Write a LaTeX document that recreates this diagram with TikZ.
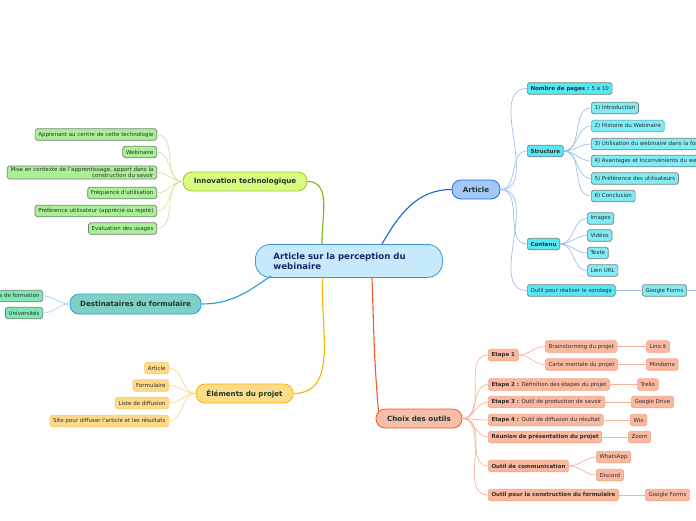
\documentclass[tikz,border=0pt]{standalone}
\usepackage{fontspec}
\setmainfont{DejaVu Sans}
\usetikzlibrary{calc}
\usetikzlibrary{positioning}
\definecolor{custom-text}{RGB}{45, 45, 45}
\definecolor{custom-dark}{RGB}{24, 58, 44}
\definecolor{custom-navy}{RGB}{27, 38, 100}
\definecolor{custom-gray}{RGB}{118, 130, 118}
\definecolor{central-fill}{RGB}{198, 234, 252}
\definecolor{central-draw}{RGB}{61, 147, 214}
\definecolor{lime-fill}{RGB}{220, 250, 130}
\definecolor{lime-draw}{RGB}{150, 205, 40}
\definecolor{lime-line}{RGB}{124, 181, 24}
\definecolor{lime-tie}{RGB}{205, 232, 160}
\definecolor{green-leaf}{RGB}{170, 240, 150}
\definecolor{teal-fill}{RGB}{128, 207, 196}
\definecolor{teal-draw}{RGB}{39, 163, 224}
\definecolor{teal-line}{RGB}{27, 161, 226}
\definecolor{teal-tie}{RGB}{160, 214, 245}
\definecolor{mint-leaf}{RGB}{126, 232, 180}
\definecolor{gold-fill}{RGB}{254, 220, 138}
\definecolor{gold-draw}{RGB}{247, 181, 0}
\definecolor{gold-line}{RGB}{246, 180, 0}
\definecolor{gold-tie}{RGB}{252, 217, 138}
\definecolor{gold-leaf}{RGB}{253, 217, 139}
\definecolor{gold-edge}{RGB}{250, 205, 110}
\definecolor{sky-fill}{RGB}{164, 199, 247}
\definecolor{sky-draw}{RGB}{31, 111, 216}
\definecolor{sky-line}{RGB}{21, 101, 216}
\definecolor{sky-tie}{RGB}{158, 191, 240}
\definecolor{cyan-one}{RGB}{85, 232, 245}
\definecolor{cyan-two}{RGB}{128, 236, 245}
\definecolor{salmon-fill}{RGB}{248, 189, 168}
\definecolor{salmon-draw}{RGB}{238, 95, 42}
\definecolor{salmon-line}{RGB}{240, 90, 40}
\definecolor{salmon-tie}{RGB}{248, 180, 154}
\definecolor{salmon-leaf}{RGB}{249, 185, 160}
\definecolor{salmon-edge}{RGB}{247, 165, 133}
\tikzset{
  leaf/.style={draw=custom-gray, rounded corners=1.8pt, line width=0.7pt, inner xsep=3.2pt, inner ysep=0pt,
    minimum height=11.5pt, font=\fontsize{5.5}{6.6}\selectfont, text=custom-text},
  branch/.style={draw, rounded corners=9pt, line width=0.8pt, minimum height=19pt,
    font=\fontsize{7.1}{8}\selectfont\bfseries, text=custom-dark},
  trunk/.style={line width=1.1pt},
  tie/.style={line width=0.7pt}
}
\begin{document}
\begin{tikzpicture}[x=1pt, y=-1pt]
\clip (0,0) rectangle (696,520);
\fill[white] (0,0) rectangle (696,520);

\node[draw=central-draw, fill=central-fill, rounded corners=15pt, line width=0.8pt, anchor=north west,
  minimum height=33pt, text width=151pt, inner xsep=18pt, align=left, text=custom-navy,
  font=\fontsize{8.6}{10}\selectfont\bfseries] (central) at (255,244) {Article sur la perception du\\webinaire};

% gauche
\node[branch, fill=lime-fill, draw=lime-draw, minimum width=124pt] (innov) at (245,181.5) {Innovation technologique};
\node[leaf, fill=green-leaf, anchor=east] (apprenant) at (157,134.5) {Apprenant au centre de cette technologie};
\node[leaf, fill=green-leaf, anchor=east] (webinaire) at (157,152) {Webinaire};
\node[leaf, fill=green-leaf, anchor=east, align=right, inner ysep=1pt] (contexte) at (157,172.5) {Mise en contexte de l'apprentissage, apport dans la\\construction du savoir};
\node[leaf, fill=green-leaf, anchor=east] (frequence) at (157,193) {Fréquence d'utilisation};
\node[leaf, fill=green-leaf, anchor=east] (preference) at (157,211) {Préférence utilisateur (apprécié ou rejeté)};
\node[leaf, fill=green-leaf, anchor=east] (evaluation) at (157,228.5) {Evaluation des usages};
\foreach \leafname in {apprenant,webinaire,contexte,frequence,preference,evaluation}
  \draw[tie, lime-tie] (innov.west) to[out=180, in=0] (\leafname.east);
\draw[trunk, lime-line] ($(central.north west)+(67,0)$) to[out=92, in=0] (innov.east);

\node[branch, fill=teal-fill, draw=teal-draw, minimum width=131pt, minimum height=20pt] (dest) at (135.5,304) {Destinataires du formulaire};
\node[leaf, fill=mint-leaf, anchor=east] (formation) at (43,296) {Organismes de formation};
\node[leaf, fill=mint-leaf, anchor=east] (univ) at (43,313) {Universités};
\foreach \leafname in {formation,univ}
  \draw[tie, teal-tie] (dest.west) to[out=180, in=0] (\leafname.east);
\draw[trunk, teal-line] ($(central.south west)+(16,-2)$) to[out=215, in=0] (dest.east);

\node[branch, fill=gold-fill, draw=gold-draw, minimum width=97pt] (elements) at (244.5,393.5) {Éléments du projet};
\node[leaf, fill=gold-leaf, draw=gold-edge, anchor=east] (elarticle) at (169,368) {Article};
\node[leaf, fill=gold-leaf, draw=gold-edge, anchor=east] (formulaire) at (169,385.5) {Formulaire};
\node[leaf, fill=gold-leaf, draw=gold-edge, anchor=east] (liste) at (169,403) {Liste de diffusion};
\node[leaf, fill=gold-leaf, draw=gold-edge, anchor=east] (site) at (169,421) {Site pour diffuser l'article et les résultats};
\foreach \leafname in {elarticle,formulaire,liste,site}
  \draw[tie, gold-tie] (elements.west) to[out=180, in=0] (\leafname.east);
\draw[trunk, gold-line] ($(central.south west)+(68,0)$) to[out=-95, in=0] (elements.east);

% droite
\node[branch, fill=sky-fill, draw=sky-draw, minimum width=48pt] (article) at (476,189.5) {Article};
\node[leaf, fill=cyan-one, anchor=west] (nbpages) at (527,88.5) {\textbf{Nombre de pages :} 5 à 10};
\node[leaf, fill=cyan-one, anchor=west] (structure) at (527,151) {\textbf{Structure}};
\node[leaf, fill=cyan-one, anchor=west] (contenu) at (527,244) {\textbf{Contenu}};
\node[leaf, fill=cyan-one, anchor=west] (sondage) at (527,290.5) {Outil pour réaliser le sondage};
\foreach \leafname in {nbpages,structure,contenu,sondage}
  \draw[tie, sky-tie] (article.east) to[out=0, in=180] (\leafname.west);
\node[leaf, fill=cyan-two, anchor=west] (intro) at (591,108) {1) Introduction};
\node[leaf, fill=cyan-two, draw=cyan-one!80!black, anchor=west] (histoire) at (591,126) {2) Histoire du Webinaire};
\node[leaf, fill=cyan-two, anchor=west] (utilisation) at (591,144) {3) Utilisation du webinaire dans la formation};
\node[leaf, fill=cyan-two, anchor=west] (avantages) at (591,161) {4) Avantages et Inconvénients du webinaire};
\node[leaf, fill=cyan-two, anchor=west] (prefs) at (591,178.5) {5) Préférence des utilisateurs};
\node[leaf, fill=cyan-two, anchor=west] (conclusion) at (591,196) {6) Conclusion};
\foreach \leafname in {intro,histoire,utilisation,avantages,prefs,conclusion}
  \draw[tie, sky-tie] (structure.east) to[out=0, in=180] (\leafname.west);
\node[leaf, fill=cyan-two, anchor=west] (images) at (587,218.5) {Images};
\node[leaf, fill=cyan-two, anchor=west] (videos) at (587,235.5) {Vidéos};
\node[leaf, fill=cyan-two, anchor=west] (texte) at (587,253) {Texte};
\node[leaf, fill=cyan-two, anchor=west] (lien) at (587,270.5) {Lien URL};
\foreach \leafname in {images,videos,texte,lien}
  \draw[tie, sky-tie] (contenu.east) to[out=0, in=180] (\leafname.west);
\node[leaf, fill=cyan-two, anchor=west] (gforms) at (642,290.5) {Google Forms};
\coordinate (suite) at (700,290.5);
\draw[tie, sky-tie] (sondage.east) -- (gforms.west);
\draw[tie, sky-tie] (gforms.east) -- (suite);
\draw[trunk, sky-line] ($(central.north west)+(127,0)$) to[out=60, in=180] (article.west);

\node[branch, fill=salmon-fill, draw=salmon-draw, minimum width=86pt] (choix) at (419,418.5) {Choix des outils};
\node[leaf, fill=salmon-leaf, draw=salmon-edge, anchor=west] (etape1) at (488,355) {\textbf{Etape 1}};
\node[leaf, fill=salmon-leaf, draw=salmon-edge, anchor=west] (etape2) at (488,384.5) {\textbf{Etape 2 :} Définition des étapes du projet};
\node[leaf, fill=salmon-leaf, draw=salmon-edge, anchor=west] (etape3) at (488,402) {\textbf{Etape 3 :} Outil de production de savoir};
\node[leaf, fill=salmon-leaf, draw=salmon-edge, anchor=west] (etape4) at (488,420) {\textbf{Etape 4 :} Outil de diffusion du résultat};
\node[leaf, fill=salmon-leaf, draw=salmon-edge, anchor=west] (reunion) at (488,437) {\textbf{Réunion de présentation du projet}};
\node[leaf, fill=salmon-leaf, draw=salmon-edge, anchor=west] (comm) at (488,466) {\textbf{Outil de communication}};
\node[leaf, fill=salmon-leaf, draw=salmon-edge, anchor=west] (constr) at (488,495) {\textbf{Outil pour la construction du formulaire}};
\foreach \leafname in {etape1,etape2,etape3,etape4,reunion,comm,constr}
  \draw[tie, salmon-tie] (choix.east) to[out=0, in=180] (\leafname.west);
\node[leaf, fill=salmon-leaf, draw=salmon-edge, anchor=west] (brain) at (545,346.5) {Brainstorming du projet};
\node[leaf, fill=salmon-leaf, draw=salmon-edge, anchor=west] (carte) at (545,364.5) {Carte mentale du projet};
\foreach \leafname in {brain,carte}
  \draw[tie, salmon-tie] (etape1.east) to[out=0, in=180] (\leafname.west);
\node[leaf, fill=salmon-leaf, draw=salmon-edge, anchor=west] (lino) at (646,346.5) {Lino.it};
\node[leaf, fill=salmon-leaf, draw=salmon-edge, anchor=west] (mindomo) at (646,364.5) {Mindomo};
\node[leaf, fill=salmon-leaf, draw=salmon-edge, anchor=west] (trello) at (637,384.5) {Trello};
\node[leaf, fill=salmon-leaf, draw=salmon-edge, anchor=west] (gdrive) at (631,402) {Google Drive};
\node[leaf, fill=salmon-leaf, draw=salmon-edge, anchor=west] (wix) at (630,420) {Wix};
\node[leaf, fill=salmon-leaf, draw=salmon-edge, anchor=west] (zoom) at (628,437) {Zoom};
\node[leaf, fill=salmon-leaf, draw=salmon-edge, anchor=west] (whatsapp) at (596,457) {WhatsApp};
\node[leaf, fill=salmon-leaf, draw=salmon-edge, anchor=west] (discord) at (596,475) {Discord};
\node[leaf, fill=salmon-leaf, draw=salmon-edge, anchor=west] (gforms2) at (645,495) {Google Forms};
\draw[tie, salmon-tie] (brain.east) -- (lino.west);
\draw[tie, salmon-tie] (carte.east) -- (mindomo.west);
\draw[tie, salmon-tie] (etape2.east) -- (trello.west);
\draw[tie, salmon-tie] (etape3.east) -- (gdrive.west);
\draw[tie, salmon-tie] (etape4.east) -- (wix.west);
\draw[tie, salmon-tie] (reunion.east) -- (zoom.west);
\foreach \leafname in {whatsapp,discord}
  \draw[tie, salmon-tie] (comm.east) to[out=0, in=180] (\leafname.west);
\draw[tie, salmon-tie] (constr.east) -- (gforms2.west);
\draw[trunk, salmon-line] ($(central.south west)+(117,0)$) to[out=-88, in=95] ($(choix.west)+(3,-6)$);
\end{tikzpicture}
\end{document}
